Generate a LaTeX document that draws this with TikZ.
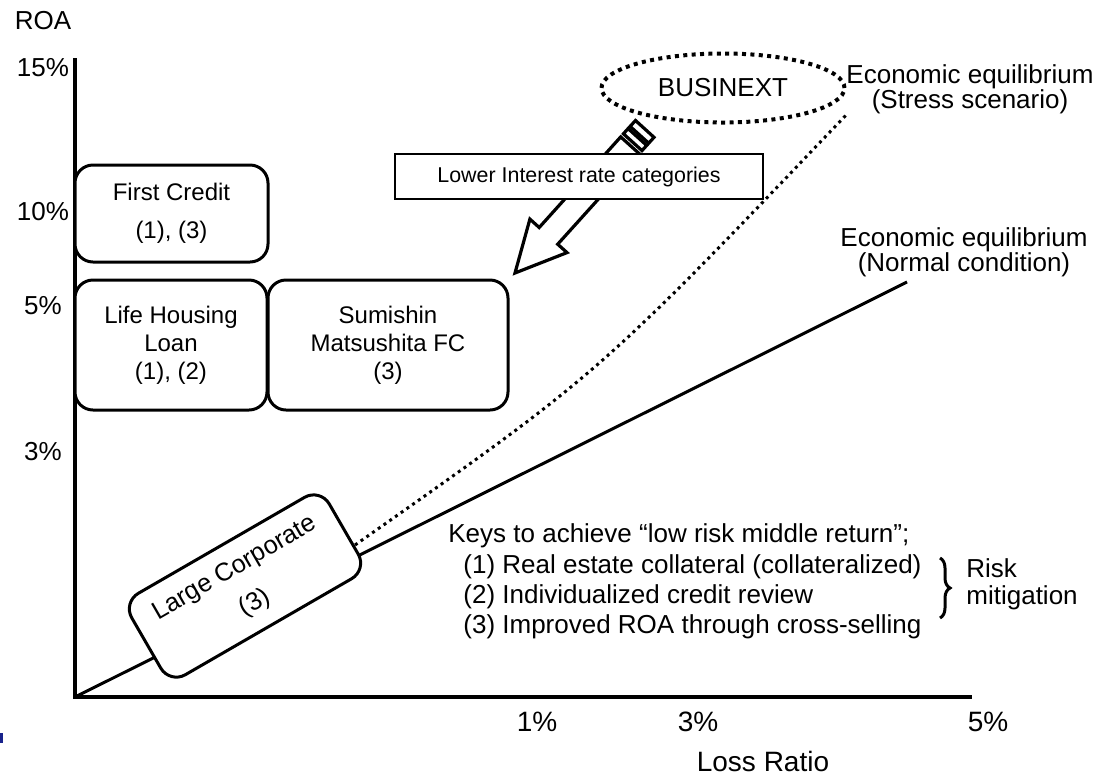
\documentclass[tikz,border=0pt]{standalone}
\usepackage{fontspec}
\setmainfont{Liberation Sans}
\usetikzlibrary{calc,shapes.geometric,decorations.pathreplacing}
\definecolor{logoblue}{RGB}{25,35,140}
\begin{document}
\begin{tikzpicture}[x=0.5pt,y=-0.5pt,
  lbl/.style={font=\fontsize{13}{14}\selectfont, inner sep=0pt},
  xlbl/.style={font=\fontsize{14}{16}\selectfont, inner sep=0pt},
  firm/.style={draw, line width=1.5pt, rounded corners=9pt, fill=white, align=center,
    font=\fontsize{12}{14}\selectfont, inner sep=0pt},
  eqlbl/.style={align=center, font=\fontsize{13}{12.5}\selectfont, inner sep=0pt},
  keyt/.style={font=\fontsize{13}{15}\selectfont, inner sep=0pt, anchor=base west},
  ax/.style={line width=2pt},
  dotline/.style={line width=1.5pt, dash pattern=on 1.5pt off 2pt},
  arrowpart/.style={line width=1.6pt, fill=white, line join=miter},
]
\useasboundingbox (0,0) rectangle (1109,778);
\fill[white] (0,0) rectangle (1109,778);

% axes
\coordinate (o) at (75,697);
\coordinate (ytop) at (75,58);
\coordinate (xend) at (972,697);
\draw[ax] (ytop) -- (o) -- (xend);

% axis labels
\node[lbl] (roa) at (43,21) {ROA};
\node[lbl] (y15) at (43,68) {15\%};
\node[lbl] (y10) at (43,212) {10\%};
\node[lbl] (y5) at (43,306) {5\%};
\node[lbl] (y3) at (43,452) {3\%};
\node[xlbl] (x1) at (537,722) {1\%};
\node[xlbl] (x3) at (698,722) {3\%};
\node[xlbl] (x5) at (988,722) {5\%};
\node[xlbl] (lr) at (763,761) {Loss Ratio};

% equilibrium lines
\coordinate (nend) at (907,282);
\draw[line width=1.5pt] (o) -- (nend);
\coordinate (ds) at (355,545);
\coordinate (de) at (848,113);
\draw[dotline] (ds) .. controls (600,373) .. (de);

\node[eqlbl] (ees) at (970,89) {Economic equilibrium\\(Stress scenario)};
\node[eqlbl] (een) at (964,252) {Economic equilibrium\\(Normal condition)};

% BUSINEXT
\node[ellipse, draw, line width=2pt, dash pattern=on 2pt off 2.2pt,
  minimum width=121.5pt, minimum height=34.5pt, inner sep=0pt,
  font=\fontsize{13}{14}\selectfont] (bx) at (723,88) {BUSINEXT};

% striped block arrow
\draw[arrowpart] (515,273) -- (567.0,252.6) -- (557.7,244.2) -- (639.3,153.7)
  -- (620.7,136.9) -- (539.2,227.5) -- (529.9,219.1) -- cycle;
\draw[arrowpart] (642.0,150.6) -- (646.7,145.4) -- (628.1,128.6) -- (623.4,133.8) -- cycle;
\draw[arrowpart] (648.7,143.2) -- (654.0,137.3) -- (635.5,120.5) -- (630.1,126.4) -- cycle;

\node[draw, line width=0.75pt, fill=white, minimum width=184pt, minimum height=22.5pt,
  inner sep=0pt, font=\fontsize{10.7}{12}\selectfont] (lir) at (579,176.5)
  {Lower Interest rate categories};

% firms
\node[firm, minimum width=96.5pt, minimum height=48.5pt] (fc) at (171.5,213.5)
  {First Credit\\[5pt](1), (3)};
\node[firm, minimum width=96pt, minimum height=65pt] (lh) at (171,345)
  {Life Housing\\Loan\\(1), (2)};
\node[firm, minimum width=120pt, minimum height=65pt] (sm) at (388,345)
  {Sumishin\\Matsushita FC\\(3)};
\node[firm, rotate=30, minimum width=114pt, minimum height=47pt,
  font=\fontsize{12.7}{14}\selectfont] (lc) at (245,586)
  {Large Corporate\\[6pt](3)};

% keys
\node[keyt] (k0) at (448,542) {Keys to achieve “low risk middle return”;};
\node[keyt] (k1) at (463,573) {(1) Real estate collateral (collateralized)};
\node[keyt] (k2) at (463,603) {(2) Individualized credit review};
\node[keyt] (k3) at (463,633) {(3) Improved ROA through cross-selling};
\coordinate (bt) at (940,558);
\coordinate (bb) at (940,618);
\draw[line width=1.5pt, decorate, decoration={brace, amplitude=5pt}] (bt) -- (bb);
\node[lbl, align=left, font=\fontsize{13}{13.5}\selectfont, anchor=west] (rm) at (966,584)
  {Risk\\mitigation};

% logo fragment
\fill[logoblue] (0,733) rectangle (3,743);
\end{tikzpicture}
\end{document}
